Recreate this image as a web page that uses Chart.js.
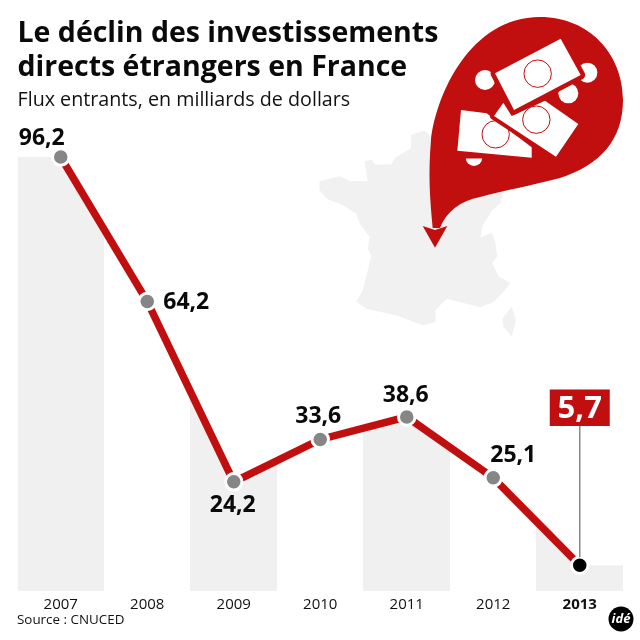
<!DOCTYPE html>
<html lang="fr">
<head>
<meta charset="utf-8">
<style>html,body{margin:0;padding:0;background:#fff}canvas{display:block}</style>
<script src="https://cdn.jsdelivr.net/npm/chart.js@4"></script>
</head>
<body>
<canvas id="c" width="640" height="640"></canvas>
<script>
const years = ['2007','2008','2009','2010','2011','2012','2013'];
const flux = [96.2,64.2,24.2,33.6,38.6,25.1,5.7];
const pointColors = ['#868686','#868686','#868686','#868686','#868686','#868686','#000000'];
const labelOffsets = [[-19,-19],[39,1],[-1,24],[-2,-23],[-1,-21],[20,-22]];
const titleLines = ['Le déclin des investissements','directs étrangers en France'];
const subtitleText = 'Flux entrants, en milliards de dollars';
const sourceText = 'Source : CNUCED';
const FONT = '"Open Sans"';
const RED = '#c10e0e';
const BAND = '#f0f0f0';

// decoration outlines (map, in crop units of the map region; notes, in crop units of the pin region)
const franceOutline = [[305,45],[345,33],[365,55],[400,120],[580,215],[570,250],[545,270],[515,320],[510,355],[545,340],[555,370],[560,410],[545,430],[565,470],[600,490],[575,520],[550,545],[510,560],[470,550],[410,535],[375,570],[375,605],[340,615],[300,600],[260,585],[170,565],[140,545],[160,510],[175,450],[185,410],[175,385],[180,350],[150,310],[140,280],[100,255],[50,235],[30,210],[30,185],[90,170],[120,185],[175,185],[165,125],[185,120],[195,135],[245,135],[255,115],[305,85]];
const corsicaOutline = [[605,560],[618,600],[605,650],[580,620],[578,595]];
const noteA = [[332,26],[392,135],[192,240],[135,130]];
const noteB = [[385,282],[318,380],[132,258],[160,218],[185,258],[285,212]];
const noteC = [[33,240],[110,250],[245,352],[245,383],[22,362]];

// the shaded columns follow the line, extended flat to the outer edges
const areaPoints = [{x:-0.5,y:flux[0]}, ...flux.map((y,x)=>({x,y})), {x:flux.length-0.5,y:flux[flux.length-1]}];

function bandGradient(ctx){
  const a = ctx.chart.chartArea;
  if(!a) return BAND;
  const g = ctx.chart.ctx.createLinearGradient(a.left,0,a.right,0);
  const n = years.length;
  for(let i=0;i<n;i++){
    const c = i%2===0 ? BAND : 'rgba(240,240,240,0)';
    g.addColorStop(i/n,c); g.addColorStop((i+1)/n,c);
  }
  return g;
}

const decor = {
  id:'decor',
  beforeDatasetsDraw(chart){
    const g = chart.ctx;
    const poly = (pts,ox,oy,fill,stroke,w)=>{
      g.beginPath();
      pts.forEach((p,i)=>i?g.lineTo(ox+p[0]/3,oy+p[1]/3):g.moveTo(ox+p[0]/3,oy+p[1]/3));
      g.closePath();
      if(stroke){g.strokeStyle=stroke;g.lineWidth=w;g.stroke();}
      g.fillStyle=fill; g.fill();
    };
    const disc = (x,y,r,fill,stroke)=>{
      g.beginPath(); g.arc(450+x/3,30+y/3,r,0,Math.PI*2);
      g.fillStyle=fill; g.fill();
      if(stroke){g.strokeStyle=stroke;g.lineWidth=1;g.stroke();}
    };
    g.save();
    g.lineJoin='round';
    poly(franceOutline,310,120,'#f1f1f1','#f1f1f1',1);
    poly(corsicaOutline,310,120,'#f1f1f1');
    // pin
    g.fillStyle=RED;
    g.beginPath();
    g.moveTo(432.7,228);
    g.bezierCurveTo(430,200,428,175,431,140);
    g.bezierCurveTo(436,95,470,17,540,17);
    g.bezierCurveTo(590,17,623,55,623,100);
    g.bezierCurveTo(623,140,600,165,560,178);
    g.bezierCurveTo(530,186,505,190,480,197);
    g.bezierCurveTo(460,201,446,212,440,228);
    g.closePath(); g.fill();
    // arrowhead
    g.beginPath();
    g.moveTo(422.7,226);g.lineTo(435,230);g.lineTo(447.3,226);g.lineTo(435,247.7);
    g.closePath(); g.fill();
    // money
    disc(105,150,10,'#fff'); disc(412,128,10,'#fff'); disc(355,190,10,'#fff');
    g.save(); g.beginPath(); g.rect(450,158.5,100,20); g.clip(); disc(72,383,8.3,'#fff'); g.restore();
    poly(noteC,450,30,'#fff');
    disc(137,313,13.7,'#fff',RED);
    poly(noteB,450,30,'#fff',RED,8);
    disc(259,269,13.7,'#fff',RED);
    poly(noteA,450,30,'#fff',RED,9);
    disc(263,131,13.7,'#fff',RED);
    g.restore();
  },
  afterDatasetsDraw(chart){
    const g = chart.ctx, xs = chart.scales.x, ys = chart.scales.y;
    g.save();
    // leader line and highlighted value
    const last = flux.length-1, lx = xs.getPixelForValue(last), ly = ys.getPixelForValue(flux[last]);
    g.strokeStyle='#8a8a8a'; g.lineWidth=1.5;
    g.beginPath(); g.moveTo(lx,426); g.lineTo(lx,ly-8); g.stroke();
    g.fillStyle=RED; g.fillRect(lx-30,389.5,60,36.5);
    const fmt = v=>v.toFixed(1).replace('.',',');
    g.fillStyle='#fff'; g.font='bold 31px '+FONT; g.textAlign='center'; g.textBaseline='middle';
    g.fillText(fmt(flux[last]),lx,409);
    // value labels
    g.fillStyle='#0a0a0a'; g.font='bold 23px '+FONT;
    labelOffsets.forEach((o,i)=>{
      g.fillText(fmt(flux[i]),xs.getPixelForValue(i)+o[0],ys.getPixelForValue(flux[i])+o[1]);
    });
    // source
    g.textAlign='left'; g.fillStyle='#111'; g.font='13.4px '+FONT;
    g.fillText(sourceText,17,620);
    // logo
    g.fillStyle='#000'; g.beginPath(); g.arc(621,619,12.5,0,Math.PI*2); g.fill();
    g.fillStyle='#fff'; g.textAlign='center'; g.font='italic bold 13px '+FONT;
    g.fillText('idé',621,619);
    g.restore();
  }
};

new Chart(document.getElementById('c'),{
  data:{
    labels:years,
    datasets:[
      {type:'line',data:flux,borderColor:RED,borderWidth:7.5,tension:0,order:1,
       pointRadius:8.25,pointBorderWidth:3,pointBorderColor:'#ffffff',pointBackgroundColor:pointColors},
      {type:'line',data:areaPoints,xAxisID:'x2',parsing:false,order:2,tension:0,
       borderWidth:0,pointRadius:0,fill:'origin',backgroundColor:bandGradient}
    ]
  },
  plugins:[decor],
  options:{
    responsive:false,animation:false,devicePixelRatio:1,
    layout:{padding:{left:17.5,right:17,top:16.5,bottom:0}},
    plugins:{
      legend:{display:false},tooltip:{enabled:false},
      title:{display:true,align:'start',text:titleLines,color:'#0a0a0a',
        font:{family:FONT,size:28.5,weight:'bold',lineHeight:1.2},padding:{top:0,bottom:0}},
      subtitle:{display:true,align:'start',text:subtitleText,color:'#111',
        font:{family:FONT,size:19.7,weight:'normal',lineHeight:1.3},padding:{top:2.5,bottom:4.4}}
    },
    scales:{
      x:{offset:true,grid:{display:false,drawTicks:false},border:{display:false},
        afterFit(s){s.height=49;},
        ticks:{autoSkip:false,maxRotation:0,padding:5,color:'#111',
          font:c=>({family:FONT,size:15,weight:c.index===6?'bold':'normal'})}},
      x2:{type:'linear',display:false,min:-0.5,max:flux.length-0.5},
      y:{display:false,min:0,max:105}
    }
  }
});
</script>
</body>
</html>
